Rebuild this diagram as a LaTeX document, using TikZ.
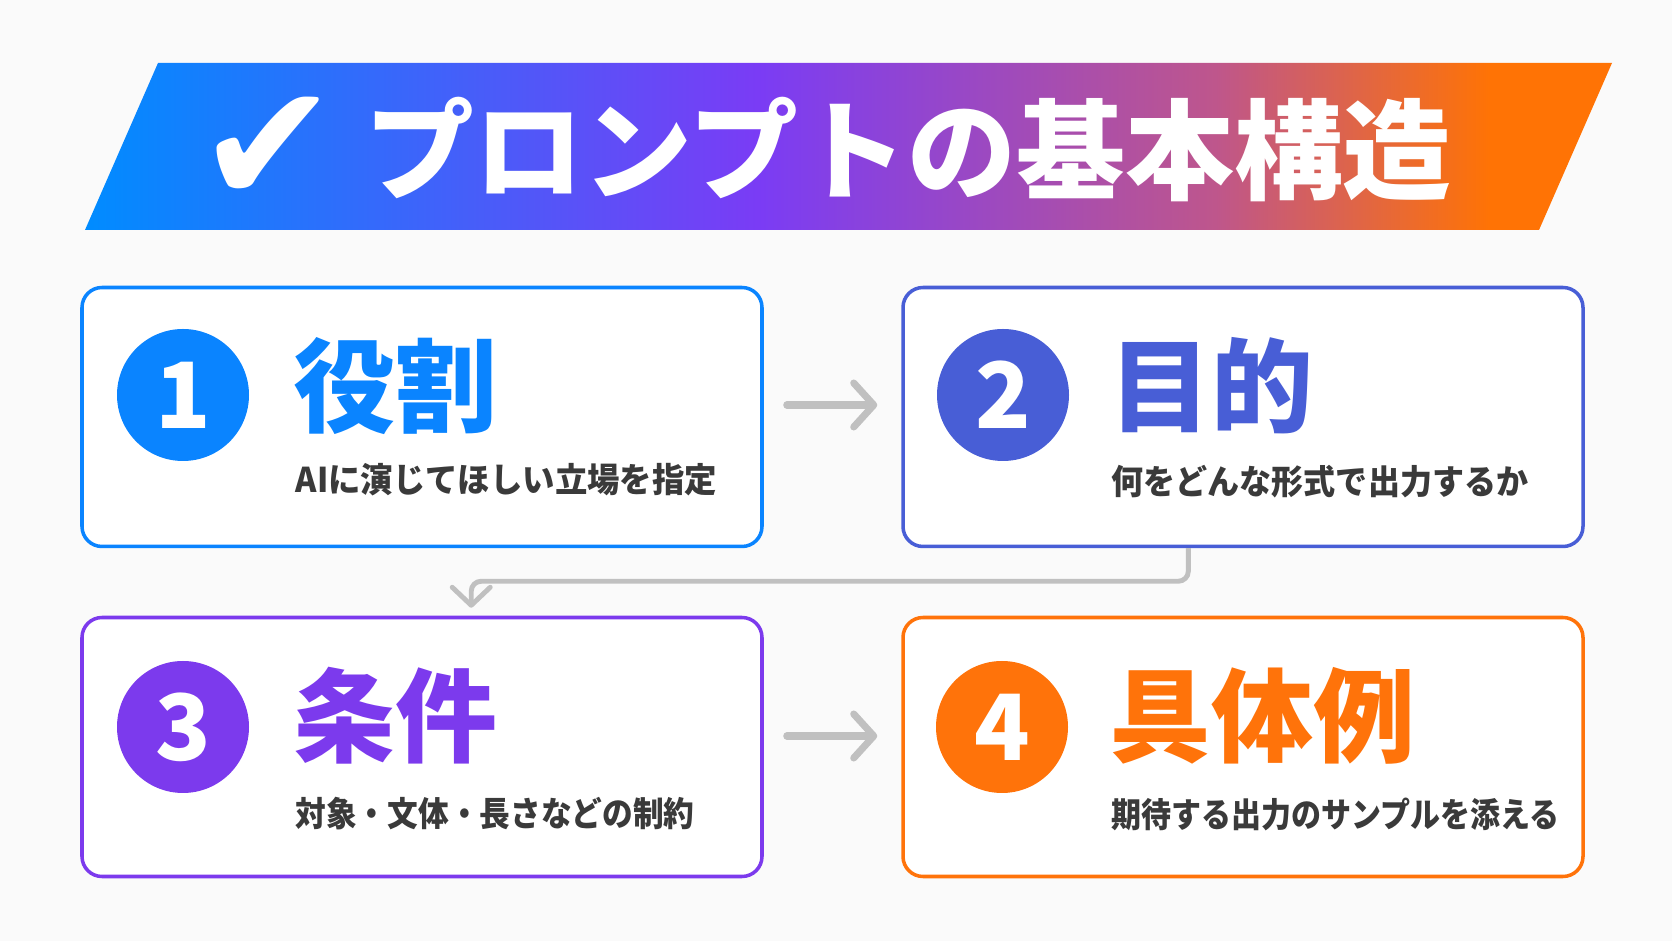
\documentclass[tikz,border=0pt]{standalone}
\usepackage{fontspec}
\newfontfamily\jpfont{Noto Sans CJK JP}
\newfontfamily\symfont{DejaVu Sans}
\usetikzlibrary{positioning,arrows.meta,calc}
\definecolor{roleclr}{RGB}{10,132,255}
\definecolor{goalclr}{RGB}{72,94,214}
\definecolor{condclr}{RGB}{124,58,237}
\definecolor{exclr}{RGB}{255,115,10}
\definecolor{arrowclr}{RGB}{192,192,192}
\definecolor{textclr}{RGB}{58,58,58}
\definecolor{bgclr}{RGB}{250,250,250}
\definecolor{headblue}{RGB}{0,140,255}
\definecolor{headpurple}{RGB}{122,60,245}
\definecolor{headmauve}{RGB}{190,86,140}
\definecolor{headorange}{RGB}{255,115,5}
\pgfdeclarehorizontalshading{headshade}{100bp}{color(0bp)=(headblue); color(25bp)=(headblue); color(47bp)=(headpurple); color(62bp)=(headmauve); color(71bp)=(headorange); color(100bp)=(headorange)}

\begin{document}
\begin{tikzpicture}[x=0.1mm,y=-0.1mm,
    card/.style={draw=#1, line width=1pt, fill=white, rounded corners=2mm,
                 minimum width=68mm, minimum height=25.9mm, inner sep=0pt},
    badge/.style={circle, fill=#1, minimum size=13.2mm, inner sep=0pt, text=white,
                  font=\jpfont\bfseries\fontsize{26}{26}\selectfont},
    heading/.style={anchor=west, inner sep=0pt, text=#1,
                    font=\jpfont\bfseries\fontsize{29}{29}\selectfont},
    subline/.style={anchor=west, inner sep=0pt, text=textclr, xscale=#1,
                    font=\jpfont\bfseries\fontsize{9.7}{9.7}\selectfont},
    flow/.style={arrowclr, line width=2pt, line cap=round,
                 -{Straight Barb[length=2mm,width=4.4mm,round]}},
    loopback/.style={arrowclr, line width=1.4pt, rounded corners=1mm,
                     -{Straight Barb[length=1.8mm,width=3.8mm,round]}}]
    \path[fill=bgclr] (0,0) rectangle (1672,941);
    \shade[shading=headshade] (158,63) -- (1612,63) -- (1539,230) -- (85,230) -- cycle;
    \node[inner sep=0pt, text=white, font=\symfont\fontsize{48}{48}\selectfont] (check) at (268,150) {✔};
    \node[anchor=west, inner sep=0pt, text=white,
          font=\jpfont\bfseries\fontsize{31}{31}\selectfont] (headtext) at (365,150) {プロンプトの基本構造};

    \node[card=roleclr] (role) at (422,417) {};
    \node[card=goalclr] (goal) at (1243,417) {};
    \node[card=condclr] (cond) at (422,747) {};
    \node[card=exclr] (exam) at (1243,747) {};

    \node[badge=roleclr] (num1) at (183,395) {1};
    \node[badge=goalclr] (num2) at (1003,395) {2};
    \node[badge=condclr] (num3) at (183,727) {3};
    \node[badge=exclr] (num4) at (1002,727) {4};

    \node[heading=roleclr] (roletitle) at (293,386) {役割};
    \node[subline=0.95] (roletext) at (295,480) {AIに演じてほしい立場を指定};
    \node[heading=goalclr] (goaltitle) at (1109,386) {目的};
    \node[subline=0.94] (goaltext) at (1111,482) {何をどんな形式で出力するか};
    \node[heading=condclr] (condtitle) at (293,716) {条件};
    \node[subline=0.9] (condtext) at (295,814) {対象・文体・長さなどの制約};
    \node[heading=exclr] (examtitle) at (1109,716) {具体例};
    \node[subline=0.88] (examtext) at (1111,814) {期待する出力のサンプルを添える};

    \coordinate (split) at ($(goal.south west)!0.42!(goal.south east)$);
    \coordinate (join) at ($(cond.north west)!0.572!(cond.north east)$);
    \draw[flow, shorten <=2.3mm, shorten >=2.4mm] ([yshift=1.2mm]role.east) -- ([yshift=1.2mm]goal.west);
    \draw[flow, shorten <=2.3mm, shorten >=2.4mm] ([yshift=1.1mm]cond.east) -- ([yshift=1.1mm]exam.west);
    \draw[loopback, shorten >=0.8mm] (split) -- ++(0,33) -| (join);
  \end{tikzpicture}
\end{document}
